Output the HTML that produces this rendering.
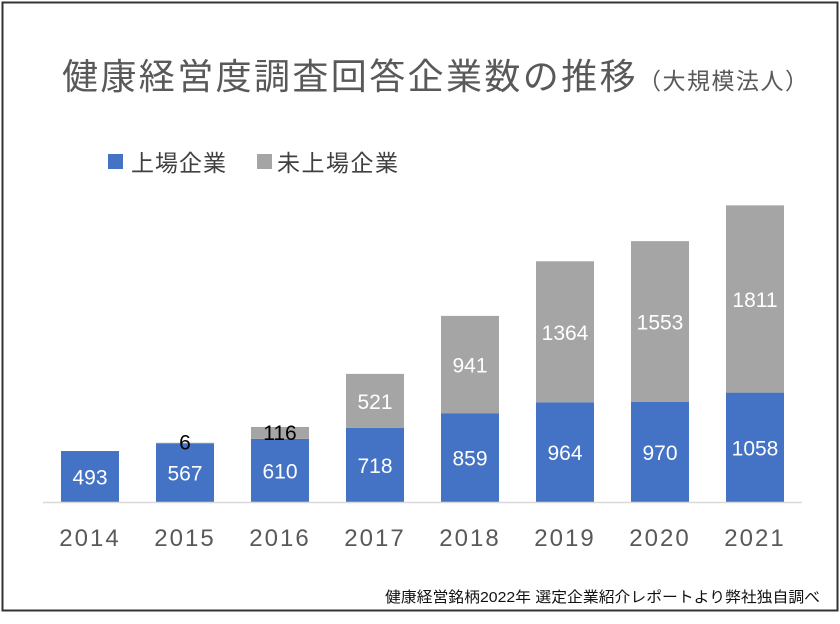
<!DOCTYPE html>
<html><head><meta charset="utf-8"><style>
body{margin:0;background:#fff;}
svg text{font-family:"Liberation Sans","Noto Sans CJK JP",sans-serif;}
</style></head><body>
<svg width="840" height="619" viewBox="0 0 840 619">
<rect x="2.5" y="2.5" width="835" height="608" fill="#fff" stroke="#333" stroke-width="2"/>
<text x="62" y="89" font-size="36" fill="#595959" letter-spacing="2.4">健康経営度調査回答企業数の推移<tspan font-size="23" letter-spacing="1.5">（大規模法人）</tspan></text>
<g>
<rect x="108" y="154" width="15" height="15" fill="#4472c4"/>
<text x="131" y="171" font-size="23" fill="#404040" letter-spacing="1">上場企業</text>
<rect x="257" y="154" width="15" height="15" fill="#a5a5a5"/>
<text x="277" y="171" font-size="23" fill="#404040" letter-spacing="1.5">未上場企業</text>
</g>
<g id="bars"></g>
<line x1="43" y1="502.5" x2="802" y2="502.5" stroke="#d9d9d9" stroke-width="1.5"/>
<g id="xlabels"></g>
<text x="385" y="602" font-size="15" fill="#111" textLength="435" lengthAdjust="spacingAndGlyphs">健康経営銘柄2022年 選定企業紹介レポートより弊社独自調べ</text>
</svg>
<script>
const categories=["2014","2015","2016","2017","2018","2019","2020","2021"];
const listed=[493,567,610,718,859,964,970,1058];
const unlisted=[0,6,116,521,941,1364,1553,1811];
const ns="http://www.w3.org/2000/svg";
const baseY=502, scale=0.1034, x0=90, step=95, bw=58;
const xs=i=>x0+i*step;
const ys=v=>v*scale;
const gb=document.getElementById('bars'), gx=document.getElementById('xlabels');
function mk(tag,attrs,parent){const e=document.createElementNS(ns,tag);for(const k in attrs)e.setAttribute(k,attrs[k]);parent.appendChild(e);return e;}
categories.forEach((c,i)=>{
  const cx=xs(i), hL=ys(listed[i]), hU=ys(unlisted[i]);
  const r1=mk('rect',{x:cx-bw/2,y:baseY-hL,width:bw,height:hL,fill:'#4472c4'},gb);
  
  
  if(unlisted[i]>0){
    const r2=mk('rect',{x:cx-bw/2,y:baseY-hL-hU,width:bw,height:hU,fill:'#a5a5a5'},gb);
    
    
  }
  const t1=mk('text',{x:cx,y:baseY-hL/2+8,'font-size':21,fill:'#fff','text-anchor':'middle'},gb);
  t1.textContent=listed[i];
  
  
  if(unlisted[i]>0){
    const small=hU<30;
    const ty=small?(hU<5?baseY-hL+6:baseY-hL+1):baseY-hL-hU/2+8;
    const t2=mk('text',{x:cx,y:ty,'font-size':21,fill:small?'#000':'#fff','text-anchor':'middle'},gb);
    t2.textContent=unlisted[i];
    
    
  }
  const tx=mk('text',{x:cx,y:546,'font-size':24,fill:'#595959','text-anchor':'middle','letter-spacing':2},gx);
  tx.textContent=c;
  
  
});
</script>
</body></html>
